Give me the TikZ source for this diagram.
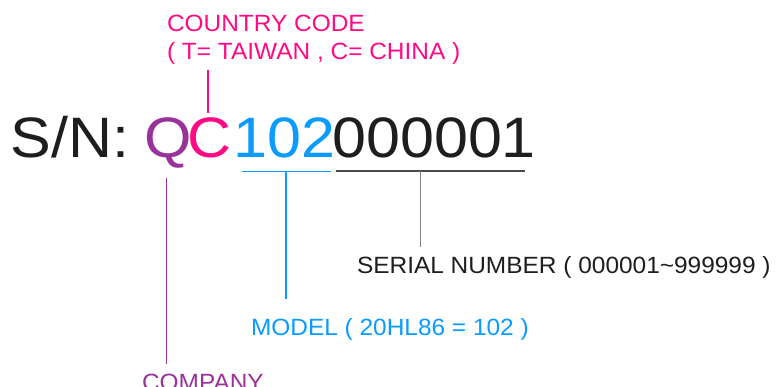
\documentclass[tikz,border=0pt]{standalone}
\usepackage{fontspec}
\usepackage{graphicx}
\setmainfont{Liberation Sans}
\usetikzlibrary{calc}
\definecolor{snpink}{HTML}{FF0A84}
\definecolor{snpurple}{HTML}{993399}
\definecolor{snblue}{HTML}{0A9BFF}
\definecolor{sndark}{HTML}{1E1E1E}
\definecolor{snline}{HTML}{4A4A4A}
\definecolor{sngray}{HTML}{808080}
\newcommand\bigtxt[1]{\scalebox{1.07}[1]{\fontsize{57}{57}\selectfont #1}}
\newcommand\smalltxt[1]{\scalebox{1.04}[1]{\fontsize{23.5}{28}\selectfont #1}}
\begin{document}
\begin{tikzpicture}[x=1pt,y=-1pt,
  txt/.style={inner sep=0pt,outer sep=0pt,anchor=base west},
  conn/.style={line width=1.4pt}]
\useasboundingbox (0,0) rectangle (782,387);
\fill[white] (0,0) rectangle (782,387);
% serial number
\node[txt,text=sndark] (sn) at (10.4,158) {\bigtxt{S/N:}};
\node[txt,text=snpurple] (q) at (144.5,158) {\bigtxt{Q}};
\node[txt,text=snpink] (c) at (187,158) {\bigtxt{C}};
\node[txt,text=snblue] (m) at (233.5,158) {\bigtxt{102}};
\node[txt,text=sndark] (s) at (332.4,158) {\bigtxt{000001}};
% labels
\node[txt,text=snpink] (cc1) at (167,31.5) {\smalltxt{COUNTRY CODE}};
\node[txt,text=snpink] (cc2) at (167,60) {\smalltxt{( T= TAIWAN , C= CHINA )}};
\node[txt,text=sndark] (sl) at (357,274) {\smalltxt{SERIAL NUMBER ( 000001\textasciitilde999999 )}};
\node[txt,text=snblue] (ml) at (251,336) {\smalltxt{MODEL ( 20HL86 = 102 )}};
\node[txt,text=snpurple] (cl) at (142,390) {\smalltxt{COMPANY}};
% country code connector
\draw[snpink,line width=1.2pt] ($(c.north |- cc2.south)+(-1,5)$) -- ($(c.north)+(-1,-5)$);
% company connector
\coordinate (qa) at ($(q.south)+(-2,9)$);
\draw[snpurple,conn] (qa) -- ($(qa |- cl.north)+(0,-9.6)$);
% model underline and connector
\draw[snblue,conn] ($(m.south west)+(8.5,13)$) -- ($(m.south east)+(-4,13)$);
\coordinate (mj) at ($(m.south west)+(52.5,13)$);
\draw[snblue,conn] (mj) -- ($(mj |- ml.north)+(0,-20)$);
% serial underline and connector
\draw[snline,line width=1.8pt] ($(s.south west)+(3.6,12.5)$) -- ($(s.south east)+(-11,12.5)$);
\coordinate (sj) at ($(s.south west)+(88,12.5)$);
\draw[sngray,line width=1pt] (sj) -- ($(sj |- sl.north)+(0,-10)$);
\end{tikzpicture}
\end{document}
